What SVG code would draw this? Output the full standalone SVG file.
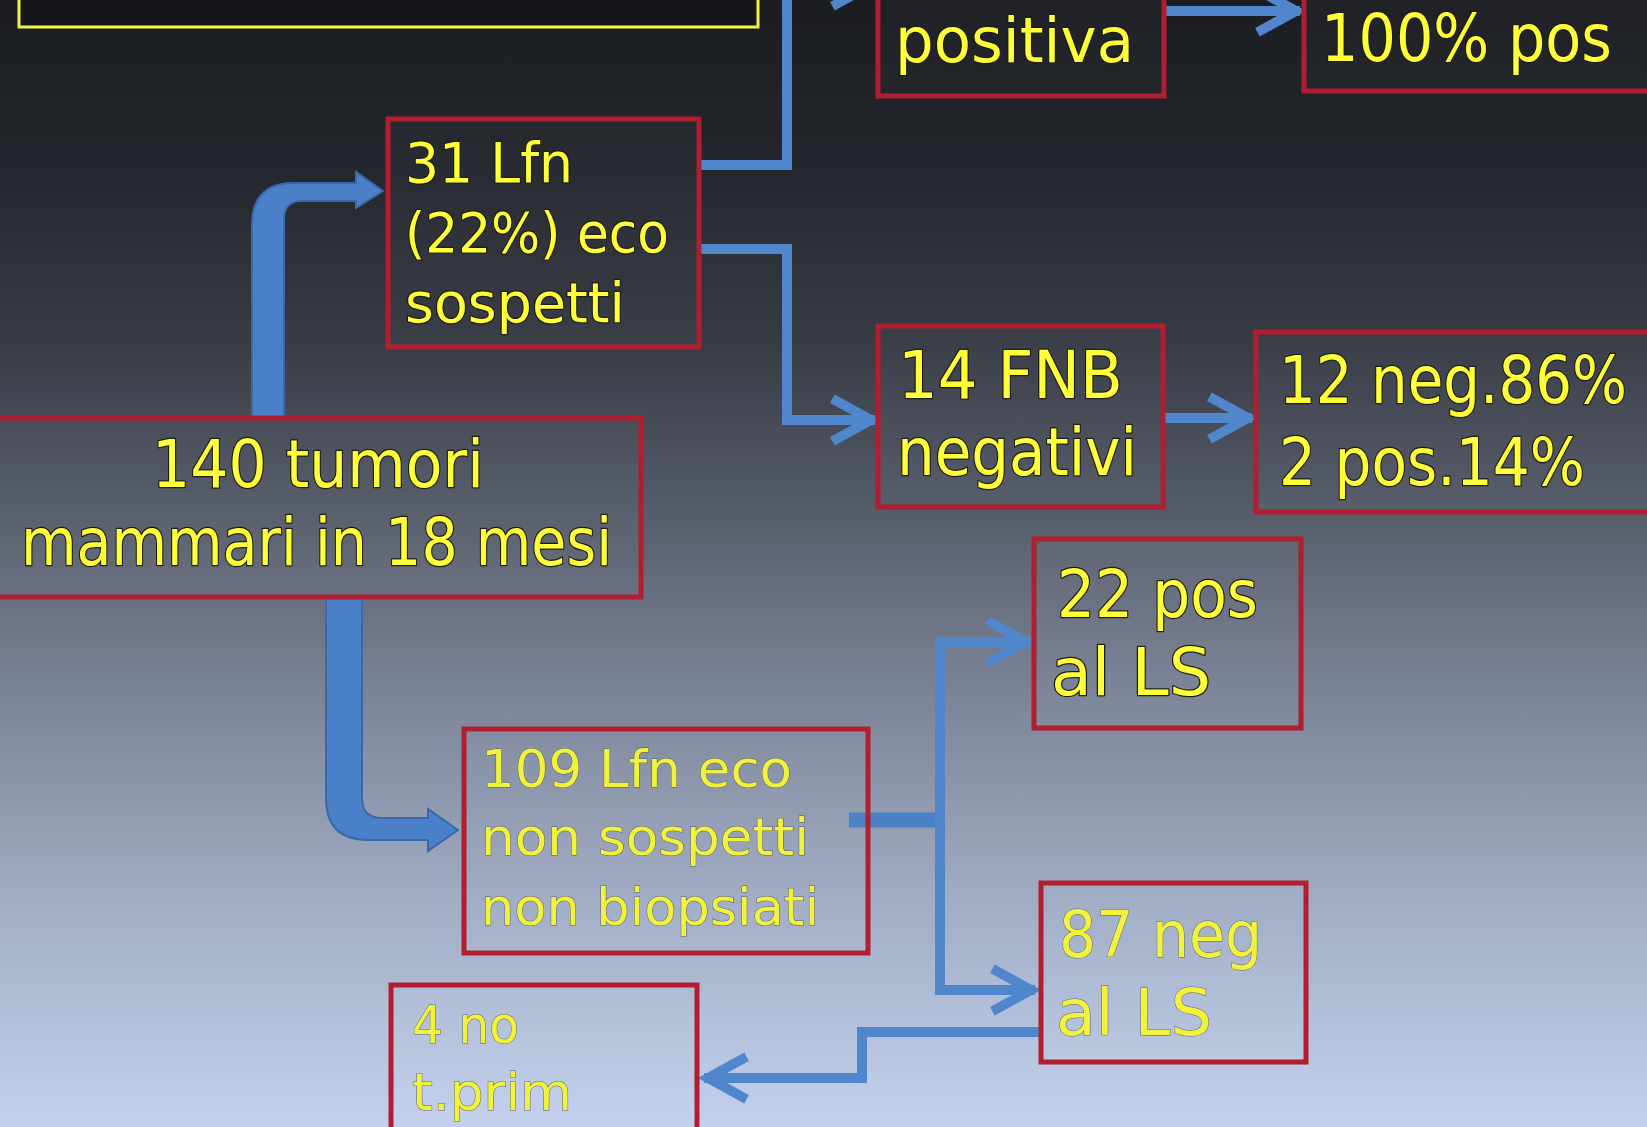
<svg xmlns="http://www.w3.org/2000/svg" width="1647" height="1127" viewBox="0 0 1647 1127">
<defs>
<linearGradient id="bg" x1="0" y1="0" x2="0" y2="1">
<stop offset="0" stop-color="#1b1d22"/>
<stop offset="0.15" stop-color="#24272d"/>
<stop offset="0.3" stop-color="#373b44"/>
<stop offset="0.45" stop-color="#555b68"/>
<stop offset="0.6" stop-color="#788093"/>
<stop offset="0.8" stop-color="#a1adc5"/>
<stop offset="1" stop-color="#c3d1ee"/>
</linearGradient>
<marker id="ah" markerUnits="userSpaceOnUse" markerWidth="60" markerHeight="60" refX="0" refY="0" viewBox="-56 -30 62 60" orient="auto" overflow="visible">
<path d="M-44,-22 L-4,0 L-44,22" fill="none" stroke="#4f86cc" stroke-width="10" stroke-linejoin="miter"/>
</marker>
<style>
.box{fill:#ffffff;fill-opacity:0.02;stroke:#b01e30;stroke-width:5}
.t{font-family:"DejaVu Sans","Liberation Sans",sans-serif;fill:#ffff3a;stroke:#1d1d14;stroke-width:2.5;paint-order:stroke;stroke-linejoin:round}
.t2{font-family:"DejaVu Sans","Liberation Sans",sans-serif;fill:#f2f23c;stroke:#55606a;stroke-width:1;paint-order:stroke}
.c{fill:none;stroke:#4f86cc;stroke-width:10;marker-end:url(#ah)}
.cn{fill:none;stroke:#4a80c6;stroke-width:10}
.thick{fill:#4a80c8;stroke:#3a68aa;stroke-width:2}
</style>
</defs>
<rect x="0" y="0" width="1647" height="1127" fill="url(#bg)"/>

<g id="connectors">
<path class="c" d="M699,165 H787 V-15 H875"/>
<path class="c" d="M1163,11 H1300"/>
<path class="c" d="M699,249 H787 V420 H875"/>
<path class="c" d="M1163,418 H1252"/>
<path class="thick" d="M252,418 V225 Q252,183 294,183 H356 V172 L383,191 L356,208 V201 H302 Q284,201 284,219 V418 Z"/>
<path class="thick" d="M326,597 V798 Q326,840 368,840 H428 V851 L458,830 L428,809 V818 H382 Q362,818 362,798 V597 Z"/>
<path fill="none" stroke="#4a80c6" stroke-width="15" d="M849,820 H942"/>
<path class="c" d="M940,820 V642 H1030"/>
<path class="c" d="M940,820 V990 H1035"/>
<path class="c" d="M1041,1032 H862 V1078 H704"/>
</g>

<g id="title">
<rect x="19" y="-40" width="739" height="67" fill="#15171c" stroke="#f2f24a" stroke-width="3"/>
</g>

<g id="n-positiva">
<rect class="box" x="878" y="-20" width="286" height="116"/>
<text class="t" x="895" y="62" font-size="62" textLength="239" lengthAdjust="spacingAndGlyphs">positiva</text>
</g>

<g id="n-100pos">
<rect class="box" x="1304" y="-20" width="360" height="111"/>
<text class="t" x="1321" y="61" font-size="66" textLength="291" lengthAdjust="spacingAndGlyphs">100% pos</text>
</g>

<g id="n-31lfn">
<rect class="box" x="388" y="119" width="311" height="228"/>
<text class="t" x="405" y="182" font-size="56" textLength="168" lengthAdjust="spacingAndGlyphs">31 Lfn</text>
<text class="t" x="405" y="252" font-size="56" textLength="264" lengthAdjust="spacingAndGlyphs">(22%) eco</text>
<text class="t" x="405" y="322" font-size="56" textLength="220" lengthAdjust="spacingAndGlyphs">sospetti</text>
</g>

<g id="n-140">
<rect class="box" x="-3" y="418" width="644" height="179"/>
<text class="t" x="152" y="487" font-size="66" textLength="332" lengthAdjust="spacingAndGlyphs">140 tumori</text>
<text class="t" x="21" y="565" font-size="66" textLength="591" lengthAdjust="spacingAndGlyphs">mammari in 18 mesi</text>
</g>

<g id="n-14fnb">
<rect class="box" x="878" y="326" width="285" height="181"/>
<text class="t" x="898" y="398" font-size="66" textLength="225" lengthAdjust="spacingAndGlyphs">14 FNB</text>
<text class="t" x="897" y="475" font-size="66" textLength="240" lengthAdjust="spacingAndGlyphs">negativi</text>
</g>

<g id="n-12neg">
<rect class="box" x="1256" y="332" width="410" height="180"/>
<text class="t" x="1279" y="403" font-size="66" textLength="348" lengthAdjust="spacingAndGlyphs">12 neg.86%</text>
<text class="t" x="1279" y="485" font-size="66" textLength="306" lengthAdjust="spacingAndGlyphs">2 pos.14%</text>
</g>

<g id="n-22pos">
<rect class="box" x="1034" y="539" width="267" height="189"/>
<text class="t" x="1057" y="617" font-size="66" textLength="201" lengthAdjust="spacingAndGlyphs">22 pos</text>
<text class="t" x="1051" y="695" font-size="66" textLength="160" lengthAdjust="spacingAndGlyphs">al LS</text>
</g>

<g id="n-109">
<rect class="box" x="464" y="729" width="404" height="224"/>
<text class="t2" x="481" y="787" font-size="52" textLength="311" lengthAdjust="spacingAndGlyphs">109 Lfn eco</text>
<text class="t2" x="481" y="855" font-size="52" textLength="328" lengthAdjust="spacingAndGlyphs">non sospetti</text>
<text class="t2" x="481" y="925" font-size="52" textLength="338" lengthAdjust="spacingAndGlyphs">non biopsiati</text>
</g>

<g id="n-87neg">
<rect class="box" x="1041" y="883" width="265" height="179"/>
<text class="t2" x="1059" y="957" font-size="64" textLength="203" lengthAdjust="spacingAndGlyphs">87 neg</text>
<text class="t2" x="1056" y="1035" font-size="64" textLength="156" lengthAdjust="spacingAndGlyphs">al LS</text>
</g>

<g id="n-4no">
<rect class="box" x="391" y="985" width="306" height="160"/>
<text class="t2" x="412" y="1043" font-size="52" textLength="107" lengthAdjust="spacingAndGlyphs">4 no</text>
<text class="t2" x="412" y="1110" font-size="52" textLength="160" lengthAdjust="spacingAndGlyphs">t.prim</text>
</g>
</svg>
